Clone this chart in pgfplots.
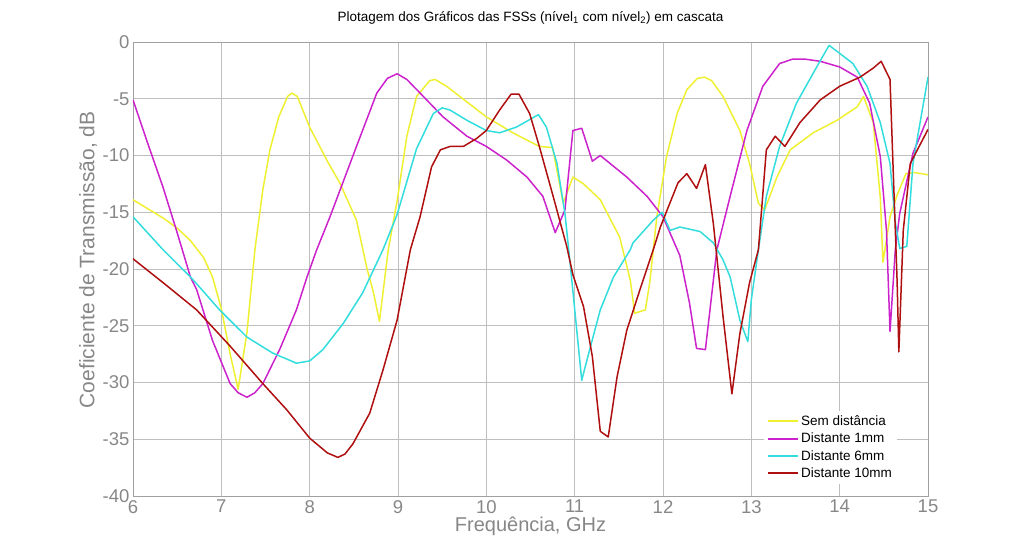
\documentclass[border=0pt]{standalone}
\usepackage{pgfplots}
\pgfplotsset{compat=1.18}
\usepackage{fontspec}
\setmainfont{Liberation Sans}
\definecolor{cYel}{RGB}{240,240,50}
\definecolor{cMag}{RGB}{204,34,204}
\definecolor{cCya}{RGB}{51,221,221}
\definecolor{cRed}{RGB}{175,15,15}
\definecolor{axgray}{RGB}{160,160,160}
\definecolor{gridgray}{RGB}{190,190,190}
\definecolor{lblgray}{RGB}{135,135,135}
\begin{document}
\begin{tikzpicture}
\begin{axis}[
  at={(0,0)}, anchor=south west,
  scale only axis, width=795pt, height=454pt,
  xmin=6, xmax=15, ymin=-40, ymax=0,
  xtick={6,...,15}, ytick={-40,-35,...,0},
  grid=major,
  major grid style={gridgray, line width=0.8pt},
  axis line style={axgray, line width=0.8pt},
  major tick length=0pt,
  /pgf/number format/assume math mode=true,
  tick label style={font=\fontsize{18.5}{18.5}\selectfont, text=lblgray},
  xticklabel style={inner sep=0pt, yshift=-4pt},
  title={Plotagem dos Gráficos das FSSs (nível\textsubscript{1} com nível\textsubscript{2}) em cascata},
  title style={font=\fontsize{13.5}{13.5}\selectfont, at={(axis description cs:0.5,1)}, anchor=center, yshift=18pt},
  xlabel={Frequência, GHz},
  xlabel style={font=\fontsize{20}{20}\selectfont, text=lblgray, inner sep=0pt, at={(axis description cs:0.5,0)}, anchor=center, yshift=-30pt},
  ylabel={Coeficiente de Transmissão, dB},
  ylabel style={font=\fontsize{21}{21}\selectfont, text=lblgray, at={(axis description cs:-0.0566,0.52)}, anchor=center},
  legend cell align=left,
  legend style={at={(axis description cs:0.961,0.026)}, anchor=south east, draw=none, fill=white,
    font=\fontsize{13.5}{13.5}\selectfont,
    nodes={inner ysep=0.65pt, text height=12pt, text depth=4pt}},
  legend image code/.code={\path[draw, #1, line width=2pt] (0pt,0pt) -- (30pt,0pt);},
  every axis plot/.append style={line width=1.5pt, line join=round},
]
\addplot[color=cYel] coordinates {
(6.00,-13.9) (6.34,-15.5) (6.50,-16.4) (6.65,-17.5) (6.80,-19.0) (6.90,-20.7) (7.00,-23.5) (7.10,-27.5) (7.19,-30.6)
(7.29,-25.6) (7.38,-18.3) (7.47,-13.0) (7.55,-9.5) (7.65,-6.6) (7.75,-4.8) (7.80,-4.5) (7.86,-4.8) (8.00,-7.5)
(8.20,-10.5) (8.34,-12.4) (8.53,-15.7) (8.65,-20.0) (8.72,-22.0) (8.79,-24.6) (8.89,-18.3) (8.99,-14.0) (9.10,-8.3)
(9.21,-4.8) (9.36,-3.4) (9.42,-3.3) (9.55,-3.9) (9.70,-4.8) (10.00,-6.6) (10.30,-8.0) (10.60,-9.2) (10.75,-9.3)
(10.87,-14.2) (10.98,-11.9) (11.10,-12.5) (11.29,-13.9) (11.51,-17.2) (11.63,-21.0) (11.68,-23.9) (11.80,-23.6)
(11.85,-21.2) (11.89,-18.3) (11.93,-15.4) (12.04,-10.1) (12.16,-6.3) (12.27,-4.2) (12.39,-3.2) (12.47,-3.1)
(12.55,-3.4) (12.68,-4.8) (12.87,-7.8) (12.98,-10.7) (13.08,-14.2) (13.15,-14.8) (13.29,-11.9) (13.44,-9.5)
(13.70,-8.0) (13.97,-6.9) (14.20,-5.7) (14.27,-4.8) (14.38,-7.1) (14.46,-13.7) (14.49,-19.4) (14.57,-15.4)
(14.65,-13.5) (14.75,-11.6) (14.85,-11.5) (15.00,-11.7)
};
\addlegendentry{Sem distância}
\addplot[color=cMag] coordinates {
(6.00,-5.1) (6.17,-9.0) (6.34,-12.8) (6.50,-16.8) (6.65,-20.7) (6.72,-21.8) (6.90,-26.3) (7.10,-30.1) (7.19,-30.9)
(7.29,-31.3) (7.38,-30.9) (7.47,-30.1) (7.66,-27.1) (7.85,-23.6) (7.97,-20.7) (8.08,-18.3) (8.23,-15.4) (8.53,-9.2)
(8.76,-4.5) (8.88,-3.2) (8.99,-2.8) (9.10,-3.3) (9.25,-4.5) (9.51,-6.6) (9.78,-8.3) (10.00,-9.2) (10.23,-10.4)
(10.46,-11.9) (10.64,-13.6) (10.78,-16.8) (10.89,-14.8) (10.98,-7.8) (11.08,-7.6) (11.20,-10.5) (11.29,-10.0)
(11.59,-11.9) (11.82,-13.6) (12.00,-15.4) (12.19,-18.8) (12.30,-23.0) (12.38,-27.0) (12.48,-27.1) (12.61,-18.3)
(12.76,-13.6) (12.95,-7.8) (13.13,-3.9) (13.32,-1.9) (13.47,-1.5) (13.60,-1.5) (13.78,-1.7) (14.00,-2.2)
(14.20,-3.1) (14.34,-5.4) (14.46,-10.1) (14.53,-16.6) (14.57,-25.5) (14.63,-18.3) (14.68,-15.1) (14.83,-9.8) (15.00,-6.6)
};
\addlegendentry{Distante 1mm}
\addplot[color=cCya] coordinates {
(6.00,-15.4) (6.34,-18.3) (6.65,-20.7) (6.72,-21.3) (6.98,-23.6) (7.29,-26.0) (7.58,-27.4) (7.85,-28.3) (8.00,-28.1)
(8.15,-27.1) (8.38,-24.8) (8.60,-22.1) (8.83,-18.3) (8.99,-15.2) (9.21,-9.4) (9.40,-6.3) (9.50,-5.8) (9.59,-6.0)
(9.78,-6.9) (10.00,-7.8) (10.15,-8.0) (10.34,-7.5) (10.59,-6.4) (10.68,-7.5) (10.80,-10.7) (10.89,-15.1) (10.95,-19.6)
(11.08,-29.8) (11.17,-27.1) (11.29,-23.6) (11.44,-20.7) (11.63,-18.3) (11.66,-17.7) (11.89,-15.7) (11.99,-15.0)
(12.08,-16.6) (12.19,-16.3) (12.42,-16.7) (12.57,-17.7) (12.68,-19.2) (12.76,-20.7) (12.87,-24.5) (12.96,-26.4)
(13.00,-22.7) (13.08,-18.3) (13.17,-13.6) (13.32,-9.2) (13.51,-5.4) (13.74,-2.2) (13.88,-0.3) (14.00,-1.0)
(14.15,-1.9) (14.31,-3.9) (14.46,-7.1) (14.57,-10.7) (14.63,-15.9) (14.68,-18.2) (14.76,-18.0) (14.83,-10.7) (15.00,-3.1)
};
\addlegendentry{Distante 6mm}
\addplot[color=cRed] coordinates {
(6.00,-19.1) (6.34,-21.2) (6.72,-23.6) (7.10,-26.8) (7.47,-30.1) (7.74,-32.4) (8.00,-34.9) (8.20,-36.2) (8.32,-36.6)
(8.40,-36.3) (8.49,-35.4) (8.68,-32.7) (8.83,-28.9) (8.99,-24.5) (9.14,-18.3) (9.25,-15.4) (9.38,-11.0) (9.48,-9.5)
(9.59,-9.2) (9.74,-9.2) (9.89,-8.5) (10.00,-7.8) (10.15,-6.0) (10.28,-4.6) (10.37,-4.6) (10.49,-6.3) (10.60,-9.2)
(10.76,-13.7) (10.91,-18.0) (10.98,-20.5) (11.10,-23.3) (11.20,-27.7) (11.29,-34.3) (11.38,-34.8) (11.48,-29.5)
(11.59,-25.4) (11.74,-21.8) (11.89,-18.3) (11.97,-16.3) (12.17,-12.4) (12.27,-11.6) (12.38,-12.9) (12.48,-10.8)
(12.57,-16.0) (12.68,-24.2) (12.78,-31.0) (12.87,-25.7) (12.98,-21.2) (13.08,-18.3) (13.17,-9.5) (13.27,-8.3)
(13.38,-9.2) (13.55,-7.1) (13.78,-5.1) (14.00,-3.9) (14.23,-3.1) (14.38,-2.3) (14.47,-1.7) (14.57,-3.3)
(14.61,-12.2) (14.65,-21.0) (14.67,-27.3) (14.72,-16.6) (14.80,-10.7) (15.00,-7.7)
};
\addlegendentry{Distante 10mm}
\end{axis}
\path[use as bounding box] (-133pt,-56pt) rectangle (890pt,496pt);
\end{tikzpicture}
\end{document}
